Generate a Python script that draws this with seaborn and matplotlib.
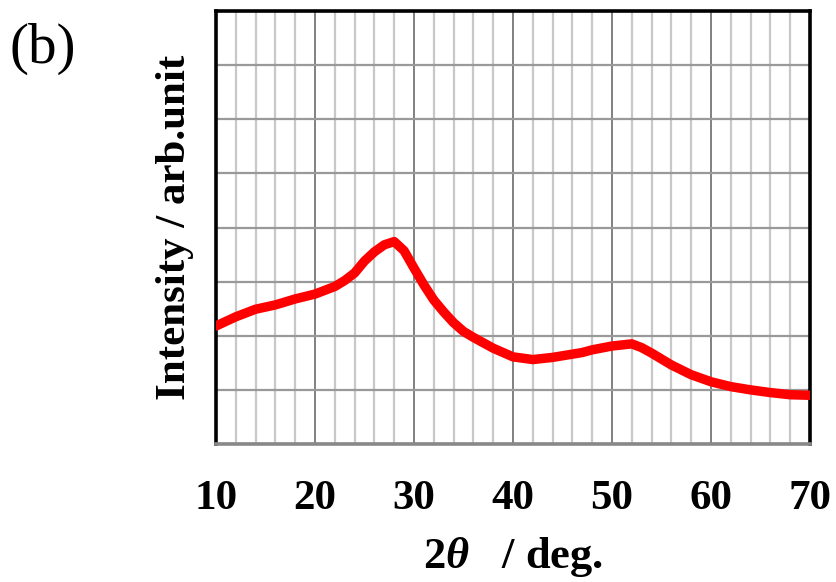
import matplotlib
matplotlib.use("Agg")
import matplotlib.pyplot as plt
import seaborn as sns
import pandas as pd
from matplotlib.ticker import MultipleLocator

two_theta = [10, 12, 14, 16, 18, 20, 22, 23, 24, 25, 26, 27, 28, 29, 30, 31, 32, 33,
             34, 35, 36, 38, 40, 42, 44, 46, 47, 48, 50, 52, 53, 54, 56, 58, 60, 62,
             64, 66, 68, 70]
intensity = [2.18, 2.35, 2.49, 2.57, 2.68, 2.77, 2.91, 3.02, 3.16, 3.38, 3.55, 3.68,
             3.74, 3.57, 3.25, 2.94, 2.66, 2.44, 2.24, 2.08, 1.97, 1.77, 1.61, 1.56,
             1.60, 1.66, 1.69, 1.74, 1.81, 1.85, 1.78, 1.68, 1.46, 1.28, 1.15, 1.06,
             1.00, 0.95, 0.91, 0.90]
x_ticks = [10, 20, 30, 40, 50, 60, 70]

df = pd.DataFrame({"two_theta": two_theta, "intensity": intensity})

sns.set_theme(style="white")
plt.rcParams["font.family"] = ["Liberation Serif", "DejaVu Serif"]
plt.rcParams["mathtext.fontset"] = "custom"
plt.rcParams["mathtext.rm"] = "Liberation Serif:bold"
plt.rcParams["mathtext.it"] = "Liberation Serif:italic:bold"
plt.rcParams["text.color"] = "black"
plt.rcParams["axes.labelcolor"] = "black"
plt.rcParams["xtick.color"] = "black"

fig = plt.figure(figsize=(8.37, 5.82), dpi=100)
ax = fig.add_axes([216 / 837, 1 - 444 / 582, (810 - 216) / 837, (444 - 11) / 582])

sns.lineplot(data=df, x="two_theta", y="intensity", ax=ax, color="#ff0000",
             linewidth=6.8, zorder=3)

ax.set_xlim(10, 70)
ax.set_ylim(0, 8)
ax.set_xticks(x_ticks)
ax.xaxis.set_minor_locator(MultipleLocator(2))
ax.yaxis.set_major_locator(MultipleLocator(1))
ax.set_yticklabels([])
ax.grid(which="minor", axis="x", color="#c8c8c8", linewidth=1.6, zorder=0)
ax.grid(which="major", axis="x", color="#808080", linewidth=1.4, zorder=1)
ax.grid(which="major", axis="y", color="#999999", linewidth=1.6, zorder=1)
ax.set_axisbelow(True)
ax.tick_params(axis="both", which="both", length=0)
ax.tick_params(axis="x", pad=26, labelsize=31, labelcolor="black")
for lab in ax.get_xticklabels():
    lab.set_fontweight("bold")

for side in ["left", "top", "right"]:
    ax.spines[side].set_color("black")
    ax.spines[side].set_linewidth(2.6)
ax.spines["bottom"].set_color("#888888")
ax.spines["bottom"].set_linewidth(2.6)

ax.set_xlabel(r"2$\mathit{\theta}$   / deg.", fontsize=32, fontweight="bold",
              labelpad=12, color="black")
ax.set_ylabel("Intensity / arb.unit", fontsize=31, fontweight="bold", labelpad=12,
              color="black")

fig.text(10 / 837, 1 - 63 / 582, "(b)", fontsize=41, ha="left", va="baseline",
         color="black")

fig.savefig("out.png", dpi=100)
